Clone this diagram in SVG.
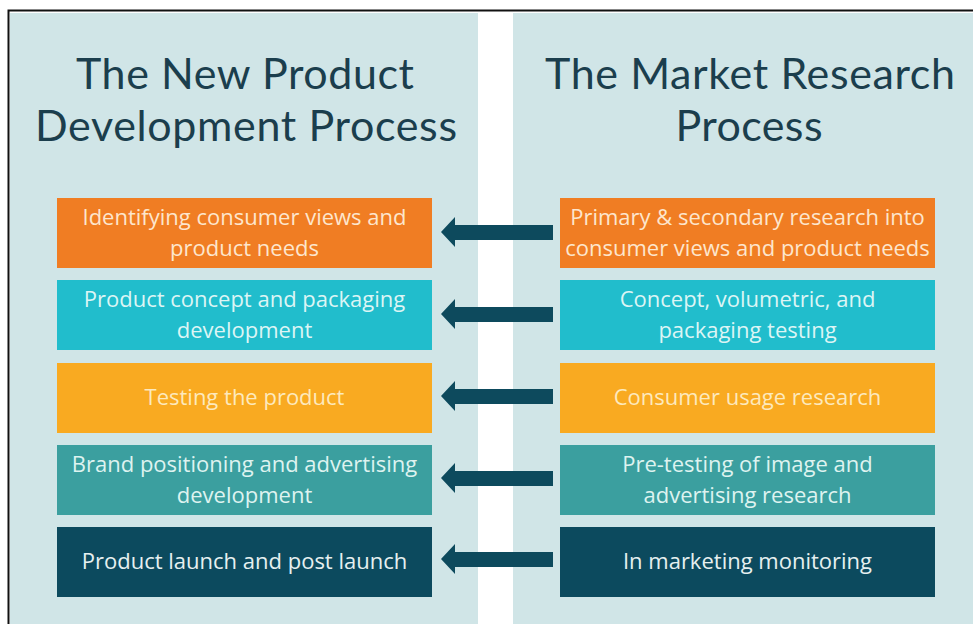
<svg xmlns="http://www.w3.org/2000/svg" width="973" height="624" viewBox="0 0 973 624">
<style>
.title{font-family:Lato,"Open Sans","Liberation Sans",sans-serif;font-size:43px;fill:#1b3e4d;text-anchor:middle}
.lbl{font-family:"Open Sans","Liberation Sans",sans-serif;font-size:22px;text-anchor:middle}
.panel{fill:#d0e5e7}
.arrow{fill:#0d4a5d}
</style>
<rect x="0" y="0" width="973" height="624" fill="#ffffff"/>
<rect x="8.5" y="10.5" width="972" height="620" fill="none" stroke="#111" stroke-width="2"/>
<rect class="panel" x="10" y="13" width="468" height="611"/>
<rect class="panel" x="513" y="13" width="460" height="611"/>
<text class="title" x="245" y="89" textLength="338">The New Product</text>
<text class="title" x="246" y="141" textLength="422">Development Process</text>
<text class="title" x="750" y="89" textLength="410">The Market Research</text>
<text class="title" x="749" y="141" textLength="147">Process</text>

<g id="npd1"><rect x="57" y="198" width="375" height="70" fill="#f07d23"/><text class="lbl" fill="#fde6cd" x="244.5" y="225">Identifying consumer views and</text><text class="lbl" fill="#fde6cd" x="244.5" y="256">product needs</text></g>
<g id="npd2"><rect x="57" y="280" width="375" height="70" fill="#21bdcc"/><text class="lbl" fill="#dcf5f5" x="244.5" y="307">Product concept and packaging</text><text class="lbl" fill="#dcf5f5" x="244.5" y="338">development</text></g>
<g id="npd3"><rect x="57" y="363" width="375" height="70" fill="#f9aa21"/><text class="lbl" fill="#fde9bd" x="244.5" y="405">Testing the product</text></g>
<g id="npd4"><rect x="57" y="445" width="375" height="70" fill="#3b9f9f"/><text class="lbl" fill="#def3f0" x="244.5" y="472">Brand positioning and advertising</text><text class="lbl" fill="#def3f0" x="244.5" y="503">development</text></g>
<g id="npd5"><rect x="57" y="527" width="375" height="70" fill="#0c4a5e"/><text class="lbl" fill="#e6f0f0" x="244.5" y="569">Product launch and post launch</text></g>

<g id="mr1"><rect x="560" y="198" width="375" height="70" fill="#f07d23"/><text class="lbl" fill="#fde6cd" x="747.5" y="225">Primary &amp; secondary research into</text><text class="lbl" fill="#fde6cd" x="747.5" y="256">consumer views and product needs</text></g>
<g id="mr2"><rect x="560" y="280" width="375" height="70" fill="#21bdcc"/><text class="lbl" fill="#dcf5f5" x="747.5" y="307">Concept, volumetric, and</text><text class="lbl" fill="#dcf5f5" x="747.5" y="338">packaging testing</text></g>
<g id="mr3"><rect x="560" y="363" width="375" height="70" fill="#f9aa21"/><text class="lbl" fill="#fde9bd" x="747.5" y="405">Consumer usage research</text></g>
<g id="mr4"><rect x="560" y="445" width="375" height="70" fill="#3b9f9f"/><text class="lbl" fill="#def3f0" x="747.5" y="472">Pre-testing of image and</text><text class="lbl" fill="#def3f0" x="747.5" y="503">advertising research</text></g>
<g id="mr5"><rect x="560" y="527" width="375" height="70" fill="#0c4a5e"/><text class="lbl" fill="#e6f0f0" x="747.5" y="569">In marketing monitoring</text></g>

<g id="connectors">
<polygon class="arrow" points="441,232 455,217 455,225 553,225 553,240 455,240 455,247"/>
<polygon class="arrow" points="441,314 455,299 455,307 553,307 553,322 455,322 455,329"/>
<polygon class="arrow" points="441,396 455,381 455,389 553,389 553,404 455,404 455,411"/>
<polygon class="arrow" points="441,478 455,463 455,471 553,471 553,486 455,486 455,493"/>
<polygon class="arrow" points="441,559 455,544 455,552 553,552 553,567 455,567 455,574"/>
</g>
</svg>
